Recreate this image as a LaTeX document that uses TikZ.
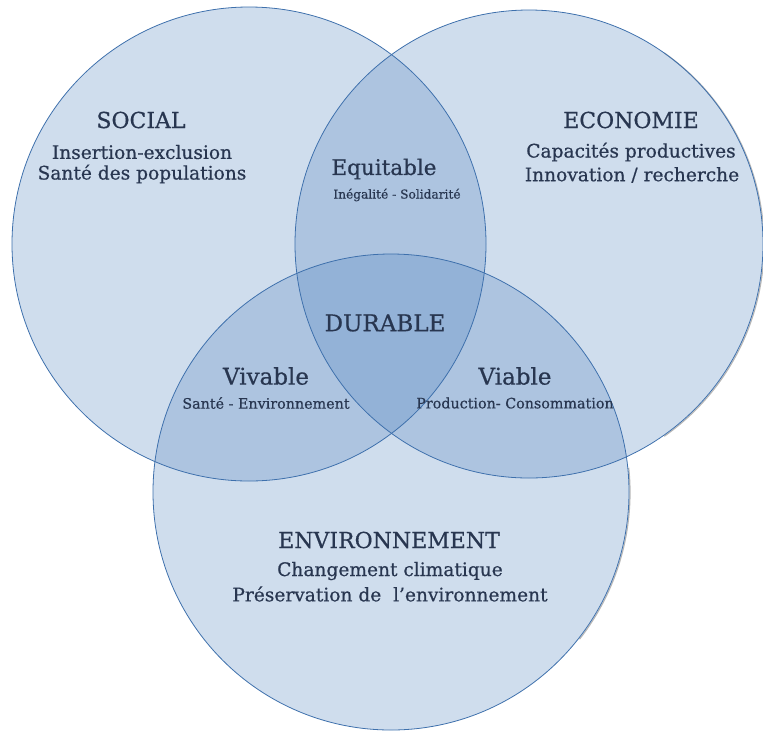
\documentclass[tikz,border=0pt]{standalone}
\usepackage{fontspec}
\setmainfont{DejaVu Serif}[FakeBold=0.6]
\definecolor{circfill}{RGB}{79,129,189}
\definecolor{circline}{RGB}{62,112,172}
\definecolor{txt}{RGB}{40,54,80}
\begin{document}
\begin{tikzpicture}[x=1pt,y=-1pt,
  venn/.style={fill=circfill,fill opacity=0.27},
  rim/.style={draw=circline,line width=0.8pt},
  shade/.style={draw=black!70,line width=1.2pt,opacity=0.4},
  title/.style={text=txt,font=\fontsize{22}{25}\selectfont,inner sep=0pt},
  sub/.style={text=txt,font=\fontsize{18.6}{21}\selectfont,inner sep=0pt},
  small/.style={text=txt,font=\fontsize{14.3}{16}\selectfont,inner sep=0pt}]
\useasboundingbox (0,0) rectangle (763,732);
\coordinate (cs) at (249,244);
\coordinate (ce) at (529,244);
\coordinate (cv) at (391,492);
% shadows on the right rims
\draw[shade] ([shift={(1,0.6)}]ce) ++(-55:234) arc[start angle=-55,end angle=55,radius=234];
\draw[shade] ([shift={(1,0.6)}]cv) ++(-6:238) arc[start angle=-6,end angle=38,radius=238];
% fills
\fill[venn] (cs) circle[radius=237];
\fill[venn] (ce) circle[radius=234];
\fill[venn] (cv) circle[radius=238];
% outlines
\draw[rim] (cs) circle[radius=237];
\draw[rim] (ce) circle[radius=234];
\draw[rim] (cv) circle[radius=238];
% texts
\node[title] (social) at (141,120) {SOCIAL};
\node[sub] (social1) at (142,152) {Insertion-exclusion};
\node[sub] (social2) at (142,174) {Santé des populations};
\node[title] (eco) at (631,120) {ECONOMIE};
\node[sub] (eco1) at (631,152) {Capacités productives};
\node[sub] (eco2) at (632,175) {Innovation / recherche};
\node[title,font=\fontsize{21.5}{24}\selectfont] (equi) at (384,169) {Equitable};
\node[small,font=\fontsize{12.2}{14}\selectfont] (equi1) at (397,195) {Inégalité - Solidarité};
\node[title,font=\fontsize{23}{26}\selectfont] (dur) at (385,323) {DURABLE};
\node[title,font=\fontsize{23}{26}\selectfont] (viv) at (266,376) {Vivable};
\node[small] (viv1) at (266,403) {Santé - Environnement};
\node[title,font=\fontsize{23}{26}\selectfont] (via) at (515,376) {Viable};
\node[small] (via1) at (515,403) {Production- Consommation};
\node[title] (env) at (389,540) {ENVIRONNEMENT};
\node[sub] (env1) at (390,571) {Changement climatique};
\node[sub] (env2) at (390,594) {Préservation de\ \ l’environnement};
\end{tikzpicture}
\end{document}
